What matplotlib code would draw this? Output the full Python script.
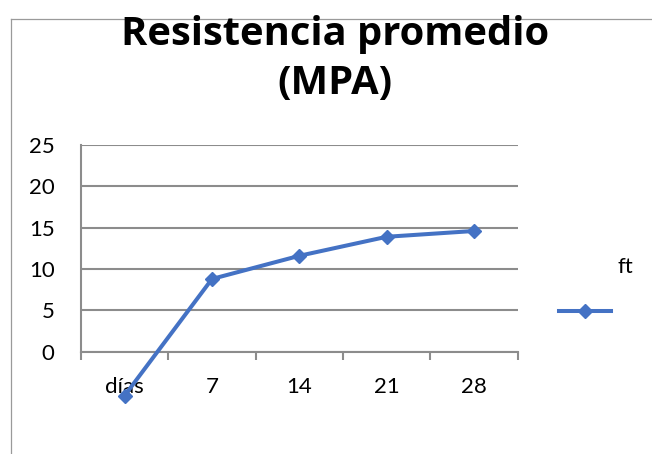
import matplotlib
matplotlib.use("Agg")
import matplotlib.pyplot as plt
from matplotlib.lines import Line2D
import numpy as np

# Data
categories = ["días", "7", "14", "21", "28"]
series_name = "ft"
values = [-5.3, 8.8, 11.6, 13.9, 14.6]
y_ticks = [0, 5, 10, 15, 20, 25]

title_lines = ["Resistencia promedio", "(MPA)"]

BLUE = "#4472C4"
GRID = "#8C8C8C"
FONT = "Lato"

plt.rcParams["font.family"] = [FONT, "DejaVu Sans"]

fig = plt.figure(figsize=(6.52, 4.54), dpi=100)
W, H = 652, 454

def fx(px):
    return px / W

def fy(py):
    return 1 - py / H

# chart area border (top and left)
fig.add_artist(Line2D([fx(10.5), 1.0], [fy(18.5), fy(18.5)], transform=fig.transFigure,
                      color="#9A9A9A", lw=0.9, zorder=0))
fig.add_artist(Line2D([fx(11), fx(11)], [fy(18.5), 0.0], transform=fig.transFigure,
                      color="#9A9A9A", lw=0.9, zorder=0))

ax = fig.add_axes([fx(81), fy(351.7), fx(517.7) - fx(81), fy(145) - fy(351.7)])

x = np.arange(len(categories))
ax.plot(x, values, color=BLUE, lw=2.9, marker="D", markersize=7.5,
        clip_on=False, zorder=5)

ax.set_xlim(-0.5, len(categories) - 0.5)
ax.set_ylim(min(y_ticks), max(y_ticks))

# horizontal gridlines
ax.set_yticks(y_ticks)
ax.yaxis.grid(True, color=GRID, lw=1.5)
ax.set_axisbelow(True)
ax.tick_params(axis="y", length=0, pad=19, labelsize=16, labelcolor="#000000")

# category boundaries as ticks, labels at centers
ax.set_xticks(np.arange(-0.5, len(categories), 1.0))
ax.set_xticklabels([])
ax.set_xticks(x, minor=True)
ax.set_xticklabels(categories, minor=True)
ax.tick_params(axis="x", which="major", length=5.5, width=1.5, color=GRID, direction="out")
ax.tick_params(axis="x", which="minor", length=0, pad=18, labelsize=16, labelcolor="#000000")

for s in ["top", "right"]:
    ax.spines[s].set_visible(False)
ax.spines["left"].set_color(GRID)
ax.spines["left"].set_linewidth(1.5)
ax.spines["bottom"].set_color(GRID)
ax.spines["bottom"].set_linewidth(1.5)
ax.spines["left"].set_bounds(0, 25)

# title, two lines
for line, base in zip(title_lines, [45, 94]):
    fig.text(fx(335), fy(base), line, ha="center", va="baseline", fontsize=28.7,
             fontweight="bold", color="#000000", family=["Open Sans", "DejaVu Sans"],
             zorder=3)

# legend: series name above the line sample
fig.add_artist(Line2D([fx(559), fx(611)], [fy(311), fy(311)], transform=fig.transFigure,
                      color=BLUE, lw=2.9))
fig.add_artist(Line2D([fx(585)], [fy(311)], transform=fig.transFigure,
                      color=BLUE, marker="D", markersize=7.5, lw=0))
fig.text(fx(625), fy(267), series_name, ha="center", va="center", fontsize=16)

fig.savefig("out.png", dpi=100)
